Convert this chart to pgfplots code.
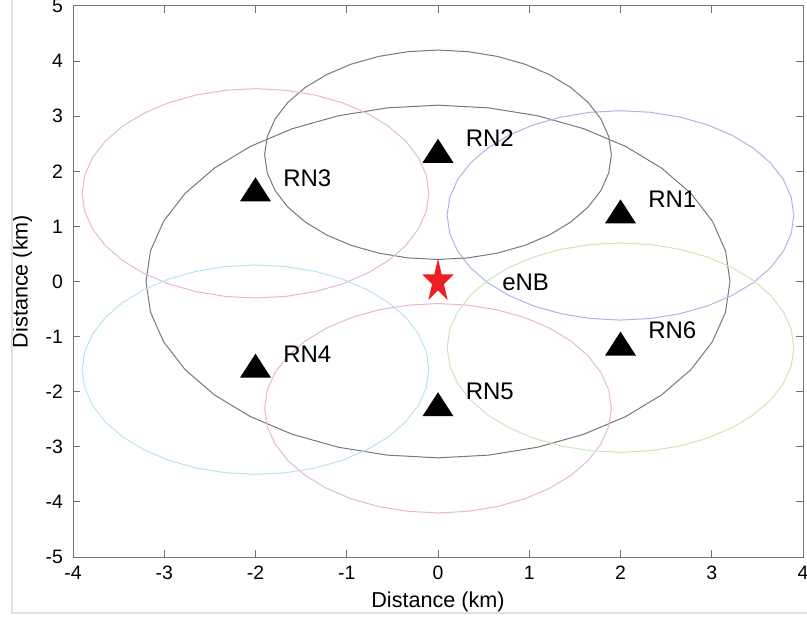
\documentclass[border=0pt]{standalone}
\usepackage{fontspec}
\setmainfont{Liberation Sans}
\usepackage{pgfplots}
\pgfplotsset{compat=1.18}
\definecolor{cgray}{RGB}{120,120,120}
\definecolor{cblue}{RGB}{178,178,232}
\definecolor{cpink}{RGB}{232,182,216}
\definecolor{ccyan}{RGB}{182,228,244}
\definecolor{cgreen}{RGB}{204,230,184}
\definecolor{cred}{RGB}{237,30,36}
\definecolor{axgray}{RGB}{115,115,115}

\pgfdeclareplotmark{fstar}{%
 \pgfpathmoveto{\pgfqpoint{0pt}{11.5pt}}%
 \pgfpathlineto{\pgfqpoint{-1.84pt}{3.55pt}}%
 \pgfpathlineto{\pgfqpoint{-7.8pt}{3.55pt}}%
 \pgfpathlineto{\pgfqpoint{-2.98pt}{-1.36pt}}%
 \pgfpathlineto{\pgfqpoint{-4.82pt}{-9.3pt}}%
 \pgfpathlineto{\pgfqpoint{0pt}{-4.39pt}}%
 \pgfpathlineto{\pgfqpoint{4.82pt}{-9.3pt}}%
 \pgfpathlineto{\pgfqpoint{2.98pt}{-1.36pt}}%
 \pgfpathlineto{\pgfqpoint{7.8pt}{3.55pt}}%
 \pgfpathlineto{\pgfqpoint{1.84pt}{3.55pt}}%
 \pgfpathclose
 \pgfusepathqfill
}
\pgfdeclareplotmark{ftri}{%
 \pgfpathmoveto{\pgfqpoint{0pt}{8pt}}%
 \pgfpathlineto{\pgfqpoint{-7.75pt}{-4pt}}%
 \pgfpathlineto{\pgfqpoint{7.75pt}{-4pt}}%
 \pgfpathclose
 \pgfusepathqfill
}

\begin{document}
\begin{tikzpicture}
\begin{axis}[
  scale only axis, width=365pt, height=275.5pt,
  xmin=-4, xmax=4, ymin=-5, ymax=5,
  xtick={-4,-3,...,4}, ytick={-5,-4,...,5},
  tick align=inside, major tick length=3.5pt,
  axis line style={axgray, line width=0.5pt},
  tick style={axgray, line width=0.5pt},
  ticklabel style={font=\fontsize{9.7}{11}\selectfont, text=black},
  yticklabel style={xshift=-1.5pt},
  xticklabel style={yshift=-1pt},
  /pgf/number format/assume math mode=true,
  xlabel={Distance (km)}, ylabel={Distance (km)},
  label style={font=\fontsize{10.8}{12}\selectfont},
  xlabel style={at={(axis description cs:0.5,-0.0817)}, anchor=center},
  ylabel style={at={(axis description cs:-0.0699,0.5)}, anchor=center, rotate=0},
  clip=false,
]
\coordinate (sw) at (rel axis cs:0,0);
\coordinate (ne) at (rel axis cs:1,1);
% eNB coverage
\addplot[cgray, line width=0.5pt] coordinates {(3.2,0)(3.151,0.556)(3.007,1.094)(2.771,1.6)(2.451,2.057)(2.057,2.451)(1.6,2.771)(1.094,3.007)(0.556,3.151)(0,3.2)(-0.556,3.151)(-1.094,3.007)(-1.6,2.771)(-2.057,2.451)(-2.451,2.057)(-2.771,1.6)(-3.007,1.094)(-3.151,0.556)(-3.2,0)(-3.151,-0.556)(-3.007,-1.094)(-2.771,-1.6)(-2.451,-2.057)(-2.057,-2.451)(-1.6,-2.771)(-1.094,-3.007)(-0.556,-3.151)(0,-3.2)(0.556,-3.151)(1.094,-3.007)(1.6,-2.771)(2.057,-2.451)(2.451,-2.057)(2.771,-1.6)(3.007,-1.094)(3.151,-0.556)(3.2,0)};
% RN1
\addplot[cblue, line width=0.5pt] coordinates {(3.9,1.2)(3.871,1.530)(3.785,1.850)(3.645,2.150)(3.455,2.421)(3.221,2.655)(2.950,2.845)(2.650,2.985)(2.330,3.071)(2,3.1)(1.670,3.071)(1.350,2.985)(1.050,2.845)(0.779,2.655)(0.545,2.421)(0.355,2.150)(0.215,1.850)(0.129,1.530)(0.1,1.2)(0.129,0.870)(0.215,0.550)(0.355,0.250)(0.545,-0.021)(0.779,-0.255)(1.050,-0.445)(1.350,-0.585)(1.670,-0.671)(2,-0.7)(2.330,-0.671)(2.650,-0.585)(2.950,-0.445)(3.221,-0.255)(3.455,-0.021)(3.645,0.250)(3.785,0.550)(3.871,0.870)(3.9,1.2)};
% RN2
\addplot[cgray, line width=0.5pt] coordinates {(1.9,2.3)(1.871,2.630)(1.785,2.950)(1.645,3.250)(1.455,3.521)(1.221,3.755)(0.950,3.945)(0.650,4.085)(0.330,4.171)(0,4.2)(-0.330,4.171)(-0.650,4.085)(-0.950,3.945)(-1.221,3.755)(-1.455,3.521)(-1.645,3.250)(-1.785,2.950)(-1.871,2.630)(-1.9,2.3)(-1.871,1.970)(-1.785,1.650)(-1.645,1.350)(-1.455,1.079)(-1.221,0.845)(-0.950,0.655)(-0.650,0.515)(-0.330,0.429)(0,0.4)(0.330,0.429)(0.650,0.515)(0.950,0.655)(1.221,0.845)(1.455,1.079)(1.645,1.350)(1.785,1.650)(1.871,1.970)(1.9,2.3)};
% RN3
\addplot[cpink, line width=0.5pt] coordinates {(-0.1,1.6)(-0.129,1.930)(-0.215,2.250)(-0.355,2.550)(-0.545,2.821)(-0.779,3.055)(-1.050,3.245)(-1.350,3.385)(-1.670,3.471)(-2,3.5)(-2.330,3.471)(-2.650,3.385)(-2.950,3.245)(-3.221,3.055)(-3.455,2.821)(-3.645,2.550)(-3.785,2.250)(-3.871,1.930)(-3.9,1.6)(-3.871,1.270)(-3.785,0.950)(-3.645,0.650)(-3.455,0.379)(-3.221,0.145)(-2.950,-0.045)(-2.650,-0.185)(-2.330,-0.271)(-2,-0.3)(-1.670,-0.271)(-1.350,-0.185)(-1.050,-0.045)(-0.779,0.145)(-0.545,0.379)(-0.355,0.650)(-0.215,0.950)(-0.129,1.270)(-0.1,1.6)};
% RN4
\addplot[ccyan, line width=0.5pt] coordinates {(-0.1,-1.6)(-0.129,-1.270)(-0.215,-0.950)(-0.355,-0.650)(-0.545,-0.379)(-0.779,-0.145)(-1.050,0.045)(-1.350,0.185)(-1.670,0.271)(-2,0.3)(-2.330,0.271)(-2.650,0.185)(-2.950,0.045)(-3.221,-0.145)(-3.455,-0.379)(-3.645,-0.650)(-3.785,-0.950)(-3.871,-1.270)(-3.9,-1.6)(-3.871,-1.930)(-3.785,-2.250)(-3.645,-2.550)(-3.455,-2.821)(-3.221,-3.055)(-2.950,-3.245)(-2.650,-3.385)(-2.330,-3.471)(-2,-3.5)(-1.670,-3.471)(-1.350,-3.385)(-1.050,-3.245)(-0.779,-3.055)(-0.545,-2.821)(-0.355,-2.550)(-0.215,-2.250)(-0.129,-1.930)(-0.1,-1.6)};
% RN5
\addplot[cpink, line width=0.5pt] coordinates {(1.9,-2.3)(1.871,-1.970)(1.785,-1.650)(1.645,-1.350)(1.455,-1.079)(1.221,-0.845)(0.950,-0.655)(0.650,-0.515)(0.330,-0.429)(0,-0.4)(-0.330,-0.429)(-0.650,-0.515)(-0.950,-0.655)(-1.221,-0.845)(-1.455,-1.079)(-1.645,-1.350)(-1.785,-1.650)(-1.871,-1.970)(-1.9,-2.3)(-1.871,-2.630)(-1.785,-2.950)(-1.645,-3.250)(-1.455,-3.521)(-1.221,-3.755)(-0.950,-3.945)(-0.650,-4.085)(-0.330,-4.171)(0,-4.2)(0.330,-4.171)(0.650,-4.085)(0.950,-3.945)(1.221,-3.755)(1.455,-3.521)(1.645,-3.250)(1.785,-2.950)(1.871,-2.630)(1.9,-2.3)};
% RN6
\addplot[cgreen, line width=0.5pt] coordinates {(3.9,-1.2)(3.871,-0.870)(3.785,-0.550)(3.645,-0.250)(3.455,0.021)(3.221,0.255)(2.950,0.445)(2.650,0.585)(2.330,0.671)(2,0.7)(1.670,0.671)(1.350,0.585)(1.050,0.445)(0.779,0.255)(0.545,0.021)(0.355,-0.250)(0.215,-0.550)(0.129,-0.870)(0.1,-1.2)(0.129,-1.530)(0.215,-1.850)(0.355,-2.150)(0.545,-2.421)(0.779,-2.655)(1.050,-2.845)(1.350,-2.985)(1.670,-3.071)(2,-3.1)(2.330,-3.071)(2.650,-2.985)(2.950,-2.845)(3.221,-2.655)(3.455,-2.421)(3.645,-2.150)(3.785,-1.850)(3.871,-1.530)(3.9,-1.2)};
% relay nodes
\addplot[only marks, mark=ftri, black] coordinates {(2,1.2)(0,2.3)(-2,1.6)(-2,-1.6)(0,-2.3)(2,-1.2)};
% eNB
\addplot[only marks, mark=fstar, cred] coordinates {(0,0)};
\begin{scope}[every node/.style={anchor=west, inner sep=0pt, font=\fontsize{12}{14}\selectfont}]
\node at (axis cs:2.3,1.5) {RN1};
\node at (axis cs:0.3,2.6) {RN2};
\node at (axis cs:-1.7,1.88) {RN3};
\node at (axis cs:-1.7,-1.32) {RN4};
\node at (axis cs:0.3,-2.0) {RN5};
\node at (axis cs:2.3,-0.88) {RN6};
\node at (axis cs:0.7,-0.02) {eNB};
\end{scope}
\end{axis}
\pgfresetboundingbox
\path[use as bounding box] (sw) ++(-36.5pt,-31pt) rectangle ([shift={(2pt,3pt)}]ne);
\draw[black!12, line width=0.6pt] (sw) ++(-30.5pt,300pt) -- ++(0,-328pt) -- ++(420pt,0);
\end{tikzpicture}
\end{document}
